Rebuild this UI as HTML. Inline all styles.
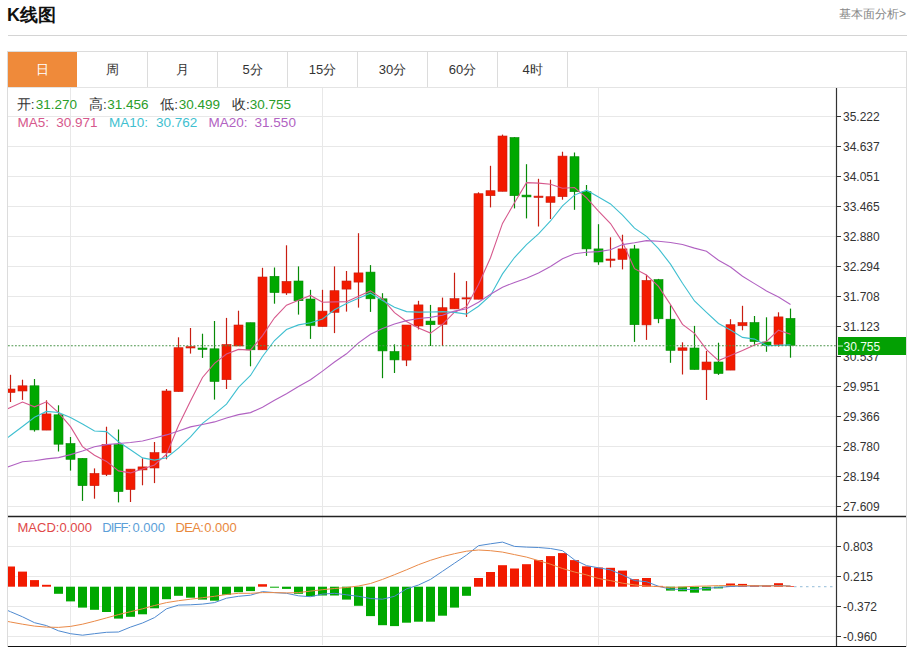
<!DOCTYPE html>
<html><head><meta charset="utf-8">
<style>
html,body{margin:0;padding:0;background:#fff;}
body{width:913px;height:647px;position:relative;overflow:hidden;font-family:"Liberation Sans",sans-serif;color:#333;}
.title{position:absolute;left:7px;top:4px;font-size:18px;font-weight:bold;color:#111;line-height:22px;}
.more{position:absolute;right:7px;top:6px;font-size:12px;color:#888;line-height:16px;}
.hl{position:absolute;left:8px;top:35px;width:899px;height:1px;background:#d4d4d4;}
.box{position:absolute;left:7px;top:51px;width:898px;height:594px;border:1px solid #dcdcdc;}
.tabs{position:absolute;left:0;top:0;}
.tab{position:absolute;top:52px;height:35px;line-height:35px;text-align:center;font-size:13px;color:#333;border-right:1px solid #dcdcdc;box-sizing:border-box;}
.tab.act{background:#ef8a3a;color:#fff;border-right:none;}
.tabline{position:absolute;left:8px;top:87px;width:898px;height:1px;background:#e4e4e4;}
svg{position:absolute;left:0;top:0;}
.ax{font-family:"Liberation Sans",sans-serif;font-size:12px;fill:#333;}
.lg{position:absolute;font-size:13px;line-height:16px;white-space:pre;}
</style></head><body>
<div class="title">K线图</div>
<div class="more">基本面分析&gt;</div>
<div class="hl"></div>
<div class="box"></div>
<div class="tab act" style="left:8px;width:69px">日</div><div class="tab" style="left:78px;width:70px">周</div><div class="tab" style="left:148px;width:70px">月</div><div class="tab" style="left:218px;width:70px">5分</div><div class="tab" style="left:288px;width:70px">15分</div><div class="tab" style="left:358px;width:70px">30分</div><div class="tab" style="left:428px;width:70px">60分</div><div class="tab" style="left:498px;width:70px">4时</div>
<div class="tabline"></div>
<svg width="913" height="647" viewBox="0 0 913 647">
<defs><clipPath id="cp"><rect x="8" y="88" width="828" height="428"/></clipPath>
<clipPath id="cp2"><rect x="8" y="517" width="828" height="128"/></clipPath></defs>
<line x1="8" y1="116.5" x2="836" y2="116.5" stroke="#e8e8e8" stroke-width="1"/>
<line x1="8" y1="146.5" x2="836" y2="146.5" stroke="#e8e8e8" stroke-width="1"/>
<line x1="8" y1="176.5" x2="836" y2="176.5" stroke="#e8e8e8" stroke-width="1"/>
<line x1="8" y1="206.5" x2="836" y2="206.5" stroke="#e8e8e8" stroke-width="1"/>
<line x1="8" y1="236.5" x2="836" y2="236.5" stroke="#e8e8e8" stroke-width="1"/>
<line x1="8" y1="266.5" x2="836" y2="266.5" stroke="#e8e8e8" stroke-width="1"/>
<line x1="8" y1="296.5" x2="836" y2="296.5" stroke="#e8e8e8" stroke-width="1"/>
<line x1="8" y1="326.5" x2="836" y2="326.5" stroke="#e8e8e8" stroke-width="1"/>
<line x1="8" y1="356.5" x2="836" y2="356.5" stroke="#e8e8e8" stroke-width="1"/>
<line x1="8" y1="386.5" x2="836" y2="386.5" stroke="#e8e8e8" stroke-width="1"/>
<line x1="8" y1="416.5" x2="836" y2="416.5" stroke="#e8e8e8" stroke-width="1"/>
<line x1="8" y1="446.5" x2="836" y2="446.5" stroke="#e8e8e8" stroke-width="1"/>
<line x1="8" y1="476.5" x2="836" y2="476.5" stroke="#e8e8e8" stroke-width="1"/>
<line x1="8" y1="506.5" x2="836" y2="506.5" stroke="#e8e8e8" stroke-width="1"/>
<line x1="8" y1="546.5" x2="836" y2="546.5" stroke="#e8e8e8" stroke-width="1"/>
<line x1="8" y1="576.5" x2="836" y2="576.5" stroke="#e8e8e8" stroke-width="1"/>
<line x1="8" y1="606.5" x2="836" y2="606.5" stroke="#e8e8e8" stroke-width="1"/>
<line x1="8" y1="636.5" x2="836" y2="636.5" stroke="#e8e8e8" stroke-width="1"/>
<line x1="70.5" y1="88" x2="70.5" y2="645" stroke="#e8e8e8" stroke-width="1"/>
<line x1="322.5" y1="88" x2="322.5" y2="645" stroke="#e8e8e8" stroke-width="1"/>
<line x1="598.5" y1="88" x2="598.5" y2="645" stroke="#e8e8e8" stroke-width="1"/>
<g clip-path="url(#cp)"><line x1="10.5" y1="374.8" x2="10.5" y2="402.0" stroke="#c81e12" stroke-width="1.2"/><rect x="6.0" y="389.0" width="9" height="3.5" fill="#f21a00" stroke="#c81e12" stroke-width="0.6"/><line x1="22.5" y1="379.7" x2="22.5" y2="399.9" stroke="#c81e12" stroke-width="1.2"/><rect x="18.0" y="385.8" width="9" height="5.2" fill="#f21a00" stroke="#c81e12" stroke-width="0.6"/><line x1="34.5" y1="379.0" x2="34.5" y2="431.6" stroke="#078a07" stroke-width="1.2"/><rect x="30.0" y="385.8" width="9" height="44.1" fill="#00a800" stroke="#078a07" stroke-width="0.6"/><line x1="46.5" y1="400.3" x2="46.5" y2="430.1" stroke="#c81e12" stroke-width="1.2"/><rect x="42.0" y="413.9" width="9" height="16.2" fill="#f21a00" stroke="#c81e12" stroke-width="0.6"/><line x1="58.5" y1="405.3" x2="58.5" y2="451.5" stroke="#078a07" stroke-width="1.2"/><rect x="54.0" y="414.8" width="9" height="29.4" fill="#00a800" stroke="#078a07" stroke-width="0.6"/><line x1="70.5" y1="437.0" x2="70.5" y2="470.6" stroke="#078a07" stroke-width="1.2"/><rect x="66.0" y="443.5" width="9" height="15.8" fill="#00a800" stroke="#078a07" stroke-width="0.6"/><line x1="82.5" y1="458.3" x2="82.5" y2="500.9" stroke="#078a07" stroke-width="1.2"/><rect x="78.0" y="458.3" width="9" height="27.4" fill="#00a800" stroke="#078a07" stroke-width="0.6"/><line x1="94.5" y1="468.4" x2="94.5" y2="498.7" stroke="#c81e12" stroke-width="1.2"/><rect x="90.0" y="473.4" width="9" height="12.3" fill="#f21a00" stroke="#c81e12" stroke-width="0.6"/><line x1="106.5" y1="426.7" x2="106.5" y2="476.0" stroke="#c81e12" stroke-width="1.2"/><rect x="102.0" y="444.6" width="9" height="29.9" fill="#f21a00" stroke="#c81e12" stroke-width="0.6"/><line x1="118.5" y1="429.5" x2="118.5" y2="502.4" stroke="#078a07" stroke-width="1.2"/><rect x="114.0" y="444.6" width="9" height="47.0" fill="#00a800" stroke="#078a07" stroke-width="0.6"/><line x1="130.5" y1="469.0" x2="130.5" y2="502.0" stroke="#c81e12" stroke-width="1.2"/><rect x="126.0" y="469.1" width="9" height="20.5" fill="#f21a00" stroke="#c81e12" stroke-width="0.6"/><line x1="142.5" y1="458.3" x2="142.5" y2="485.3" stroke="#c81e12" stroke-width="1.2"/><rect x="138.0" y="466.9" width="9" height="3.0" fill="#f21a00" stroke="#c81e12" stroke-width="0.6"/><line x1="154.5" y1="442.0" x2="154.5" y2="483.1" stroke="#c81e12" stroke-width="1.2"/><rect x="150.0" y="452.6" width="9" height="15.4" fill="#f21a00" stroke="#c81e12" stroke-width="0.6"/><line x1="166.5" y1="389.0" x2="166.5" y2="459.3" stroke="#c81e12" stroke-width="1.2"/><rect x="162.0" y="391.0" width="9" height="61.8" fill="#f21a00" stroke="#c81e12" stroke-width="0.6"/><line x1="178.5" y1="337.3" x2="178.5" y2="391.6" stroke="#c81e12" stroke-width="1.2"/><rect x="174.0" y="347.7" width="9" height="43.9" fill="#f21a00" stroke="#c81e12" stroke-width="0.6"/><line x1="190.5" y1="328.0" x2="190.5" y2="353.6" stroke="#c81e12" stroke-width="1.2"/><rect x="186.0" y="346.6" width="9" height="1.4" fill="#f21a00" stroke="#c81e12" stroke-width="0.6"/><line x1="202.5" y1="333.7" x2="202.5" y2="357.9" stroke="#078a07" stroke-width="1.2"/><rect x="198.0" y="348.0" width="9" height="1.5" fill="#00a800" stroke="#078a07" stroke-width="0.6"/><line x1="214.5" y1="321.0" x2="214.5" y2="399.6" stroke="#078a07" stroke-width="1.2"/><rect x="210.0" y="348.8" width="9" height="32.7" fill="#00a800" stroke="#078a07" stroke-width="0.6"/><line x1="226.5" y1="317.9" x2="226.5" y2="389.0" stroke="#c81e12" stroke-width="1.2"/><rect x="222.0" y="344.5" width="9" height="35.2" fill="#f21a00" stroke="#c81e12" stroke-width="0.6"/><line x1="238.5" y1="310.7" x2="238.5" y2="346.0" stroke="#c81e12" stroke-width="1.2"/><rect x="234.0" y="325.0" width="9" height="21.0" fill="#f21a00" stroke="#c81e12" stroke-width="0.6"/><line x1="250.5" y1="322.7" x2="250.5" y2="366.3" stroke="#078a07" stroke-width="1.2"/><rect x="246.0" y="322.7" width="9" height="27.1" fill="#00a800" stroke="#078a07" stroke-width="0.6"/><line x1="262.5" y1="267.8" x2="262.5" y2="349.8" stroke="#c81e12" stroke-width="1.2"/><rect x="258.0" y="277.0" width="9" height="72.8" fill="#f21a00" stroke="#c81e12" stroke-width="0.6"/><line x1="274.5" y1="267.5" x2="274.5" y2="303.7" stroke="#078a07" stroke-width="1.2"/><rect x="270.0" y="276.3" width="9" height="16.3" fill="#00a800" stroke="#078a07" stroke-width="0.6"/><line x1="286.5" y1="245.3" x2="286.5" y2="294.9" stroke="#c81e12" stroke-width="1.2"/><rect x="282.0" y="281.4" width="9" height="11.6" fill="#f21a00" stroke="#c81e12" stroke-width="0.6"/><line x1="298.5" y1="266.4" x2="298.5" y2="314.6" stroke="#078a07" stroke-width="1.2"/><rect x="294.0" y="281.0" width="9" height="19.7" fill="#00a800" stroke="#078a07" stroke-width="0.6"/><line x1="310.5" y1="289.8" x2="310.5" y2="338.9" stroke="#078a07" stroke-width="1.2"/><rect x="306.0" y="299.0" width="9" height="26.5" fill="#00a800" stroke="#078a07" stroke-width="0.6"/><line x1="322.5" y1="289.8" x2="322.5" y2="326.6" stroke="#c81e12" stroke-width="1.2"/><rect x="318.0" y="311.1" width="9" height="15.5" fill="#f21a00" stroke="#c81e12" stroke-width="0.6"/><line x1="334.5" y1="266.4" x2="334.5" y2="333.1" stroke="#c81e12" stroke-width="1.2"/><rect x="330.0" y="290.7" width="9" height="21.6" fill="#f21a00" stroke="#c81e12" stroke-width="0.6"/><line x1="346.5" y1="271.0" x2="346.5" y2="311.6" stroke="#c81e12" stroke-width="1.2"/><rect x="342.0" y="281.0" width="9" height="8.1" fill="#f21a00" stroke="#c81e12" stroke-width="0.6"/><line x1="358.5" y1="233.2" x2="358.5" y2="307.6" stroke="#c81e12" stroke-width="1.2"/><rect x="354.0" y="272.9" width="9" height="9.2" fill="#f21a00" stroke="#c81e12" stroke-width="0.6"/><line x1="370.5" y1="265.1" x2="370.5" y2="311.9" stroke="#078a07" stroke-width="1.2"/><rect x="366.0" y="272.1" width="9" height="26.7" fill="#00a800" stroke="#078a07" stroke-width="0.6"/><line x1="382.5" y1="293.2" x2="382.5" y2="378.2" stroke="#078a07" stroke-width="1.2"/><rect x="378.0" y="298.8" width="9" height="52.1" fill="#00a800" stroke="#078a07" stroke-width="0.6"/><line x1="394.5" y1="344.4" x2="394.5" y2="373.0" stroke="#078a07" stroke-width="1.2"/><rect x="390.0" y="351.5" width="9" height="8.4" fill="#00a800" stroke="#078a07" stroke-width="0.6"/><line x1="406.5" y1="325.0" x2="406.5" y2="366.1" stroke="#c81e12" stroke-width="1.2"/><rect x="402.0" y="325.0" width="9" height="35.1" fill="#f21a00" stroke="#c81e12" stroke-width="0.6"/><line x1="418.5" y1="300.8" x2="418.5" y2="329.4" stroke="#c81e12" stroke-width="1.2"/><rect x="414.0" y="304.9" width="9" height="21.1" fill="#f21a00" stroke="#c81e12" stroke-width="0.6"/><line x1="430.5" y1="304.9" x2="430.5" y2="346.0" stroke="#078a07" stroke-width="1.2"/><rect x="426.0" y="321.1" width="9" height="3.6" fill="#00a800" stroke="#078a07" stroke-width="0.6"/><line x1="442.5" y1="297.6" x2="442.5" y2="346.0" stroke="#c81e12" stroke-width="1.2"/><rect x="438.0" y="307.7" width="9" height="16.6" fill="#f21a00" stroke="#c81e12" stroke-width="0.6"/><line x1="454.5" y1="272.7" x2="454.5" y2="308.9" stroke="#c81e12" stroke-width="1.2"/><rect x="450.0" y="298.6" width="9" height="10.3" fill="#f21a00" stroke="#c81e12" stroke-width="0.6"/><line x1="466.5" y1="281.1" x2="466.5" y2="316.9" stroke="#c81e12" stroke-width="1.2"/><rect x="462.0" y="297.8" width="9" height="1.2" fill="#f21a00" stroke="#c81e12" stroke-width="0.6"/><line x1="478.5" y1="192.3" x2="478.5" y2="299.2" stroke="#c81e12" stroke-width="1.2"/><rect x="474.0" y="193.7" width="9" height="105.5" fill="#f21a00" stroke="#c81e12" stroke-width="0.6"/><line x1="490.5" y1="165.8" x2="490.5" y2="207.4" stroke="#c81e12" stroke-width="1.2"/><rect x="486.0" y="190.7" width="9" height="5.0" fill="#f21a00" stroke="#c81e12" stroke-width="0.6"/><line x1="502.5" y1="134.6" x2="502.5" y2="191.3" stroke="#c81e12" stroke-width="1.2"/><rect x="498.0" y="136.0" width="9" height="55.3" fill="#f21a00" stroke="#c81e12" stroke-width="0.6"/><line x1="514.5" y1="137.1" x2="514.5" y2="208.4" stroke="#078a07" stroke-width="1.2"/><rect x="510.0" y="137.5" width="9" height="58.2" fill="#00a800" stroke="#078a07" stroke-width="0.6"/><line x1="526.5" y1="164.2" x2="526.5" y2="218.4" stroke="#078a07" stroke-width="1.2"/><rect x="522.0" y="195.1" width="9" height="1.8" fill="#00a800" stroke="#078a07" stroke-width="0.6"/><line x1="538.5" y1="178.8" x2="538.5" y2="226.5" stroke="#c81e12" stroke-width="1.2"/><rect x="534.0" y="196.1" width="9" height="1.4" fill="#f21a00" stroke="#c81e12" stroke-width="0.6"/><line x1="550.5" y1="179.7" x2="550.5" y2="219.0" stroke="#c81e12" stroke-width="1.2"/><rect x="546.0" y="196.7" width="9" height="5.7" fill="#f21a00" stroke="#c81e12" stroke-width="0.6"/><line x1="562.5" y1="151.7" x2="562.5" y2="199.7" stroke="#c81e12" stroke-width="1.2"/><rect x="558.0" y="156.1" width="9" height="40.6" fill="#f21a00" stroke="#c81e12" stroke-width="0.6"/><line x1="574.5" y1="152.5" x2="574.5" y2="209.8" stroke="#078a07" stroke-width="1.2"/><rect x="570.0" y="156.7" width="9" height="35.0" fill="#00a800" stroke="#078a07" stroke-width="0.6"/><line x1="586.5" y1="185.0" x2="586.5" y2="255.9" stroke="#078a07" stroke-width="1.2"/><rect x="582.0" y="191.7" width="9" height="57.2" fill="#00a800" stroke="#078a07" stroke-width="0.6"/><line x1="598.5" y1="224.2" x2="598.5" y2="264.8" stroke="#078a07" stroke-width="1.2"/><rect x="594.0" y="248.9" width="9" height="13.1" fill="#00a800" stroke="#078a07" stroke-width="0.6"/><line x1="610.5" y1="237.3" x2="610.5" y2="267.4" stroke="#c81e12" stroke-width="1.2"/><rect x="606.0" y="259.0" width="9" height="1.4" fill="#f21a00" stroke="#c81e12" stroke-width="0.6"/><line x1="622.5" y1="234.7" x2="622.5" y2="269.4" stroke="#c81e12" stroke-width="1.2"/><rect x="618.0" y="248.9" width="9" height="10.5" fill="#f21a00" stroke="#c81e12" stroke-width="0.6"/><line x1="634.5" y1="244.9" x2="634.5" y2="341.9" stroke="#078a07" stroke-width="1.2"/><rect x="630.0" y="248.9" width="9" height="75.8" fill="#00a800" stroke="#078a07" stroke-width="0.6"/><line x1="646.5" y1="274.8" x2="646.5" y2="339.9" stroke="#c81e12" stroke-width="1.2"/><rect x="642.0" y="280.4" width="9" height="44.5" fill="#f21a00" stroke="#c81e12" stroke-width="0.6"/><line x1="658.5" y1="278.9" x2="658.5" y2="323.2" stroke="#078a07" stroke-width="1.2"/><rect x="654.0" y="279.6" width="9" height="39.2" fill="#00a800" stroke="#078a07" stroke-width="0.6"/><line x1="670.5" y1="305.2" x2="670.5" y2="362.8" stroke="#078a07" stroke-width="1.2"/><rect x="666.0" y="319.2" width="9" height="31.2" fill="#00a800" stroke="#078a07" stroke-width="0.6"/><line x1="682.5" y1="342.3" x2="682.5" y2="374.5" stroke="#c81e12" stroke-width="1.2"/><rect x="678.0" y="347.8" width="9" height="2.6" fill="#f21a00" stroke="#c81e12" stroke-width="0.6"/><line x1="694.5" y1="325.9" x2="694.5" y2="369.5" stroke="#078a07" stroke-width="1.2"/><rect x="690.0" y="348.0" width="9" height="21.5" fill="#00a800" stroke="#078a07" stroke-width="0.6"/><line x1="706.5" y1="351.0" x2="706.5" y2="400.0" stroke="#c81e12" stroke-width="1.2"/><rect x="702.0" y="362.0" width="9" height="7.8" fill="#f21a00" stroke="#c81e12" stroke-width="0.6"/><line x1="718.5" y1="342.7" x2="718.5" y2="374.9" stroke="#078a07" stroke-width="1.2"/><rect x="714.0" y="362.0" width="9" height="11.5" fill="#00a800" stroke="#078a07" stroke-width="0.6"/><line x1="730.5" y1="319.2" x2="730.5" y2="370.1" stroke="#c81e12" stroke-width="1.2"/><rect x="726.0" y="324.7" width="9" height="45.4" fill="#f21a00" stroke="#c81e12" stroke-width="0.6"/><line x1="742.5" y1="305.8" x2="742.5" y2="330.3" stroke="#c81e12" stroke-width="1.2"/><rect x="738.0" y="322.6" width="9" height="3.1" fill="#f21a00" stroke="#c81e12" stroke-width="0.6"/><line x1="754.5" y1="316.0" x2="754.5" y2="344.7" stroke="#078a07" stroke-width="1.2"/><rect x="750.0" y="322.5" width="9" height="19.1" fill="#00a800" stroke="#078a07" stroke-width="0.6"/><line x1="766.5" y1="317.3" x2="766.5" y2="351.8" stroke="#078a07" stroke-width="1.2"/><rect x="762.0" y="342.0" width="9" height="3.3" fill="#00a800" stroke="#078a07" stroke-width="0.6"/><line x1="778.5" y1="312.3" x2="778.5" y2="346.6" stroke="#c81e12" stroke-width="1.2"/><rect x="774.0" y="316.9" width="9" height="27.5" fill="#f21a00" stroke="#c81e12" stroke-width="0.6"/><line x1="790.5" y1="308.6" x2="790.5" y2="357.7" stroke="#078a07" stroke-width="1.2"/><rect x="786.0" y="318.4" width="9" height="26.9" fill="#00a800" stroke="#078a07" stroke-width="0.6"/>
<path d="M-1.5,413.0 L10.5,407.5 L22.5,402.0 L34.5,406.8 L46.5,401.8 L58.5,412.6 L70.5,426.6 L82.5,446.6 L94.5,455.3 L106.5,461.4 L118.5,470.9 L130.5,472.9 L142.5,469.1 L154.5,465.0 L166.5,454.2 L178.5,425.5 L190.5,401.0 L202.5,377.5 L214.5,363.3 L226.5,354.0 L238.5,349.4 L250.5,350.1 L262.5,335.6 L274.5,317.8 L286.5,305.2 L298.5,300.3 L310.5,295.4 L322.5,302.3 L334.5,301.9 L346.5,301.8 L358.5,296.2 L370.5,290.9 L382.5,298.9 L394.5,312.7 L406.5,321.5 L418.5,327.9 L430.5,333.1 L442.5,324.4 L454.5,312.2 L466.5,306.7 L478.5,284.5 L490.5,257.7 L502.5,223.4 L514.5,202.8 L526.5,182.6 L538.5,183.1 L550.5,184.3 L562.5,188.3 L574.5,187.5 L586.5,197.9 L598.5,211.1 L610.5,223.5 L622.5,242.1 L634.5,268.7 L646.5,275.0 L658.5,286.4 L670.5,304.6 L682.5,324.4 L694.5,333.4 L706.5,349.7 L718.5,360.6 L730.5,355.5 L742.5,350.5 L754.5,344.9 L766.5,341.5 L778.5,330.2 L790.5,334.3" fill="none" stroke="#d6588c" stroke-width="1.1"/>
<path d="M-1.5,444.5 L10.5,435.5 L22.5,426.5 L34.5,417.3 L46.5,411.4 L58.5,412.5 L70.5,417.5 L82.5,424.0 L94.5,431.0 L106.5,431.6 L118.5,441.7 L130.5,449.8 L142.5,457.9 L154.5,460.1 L166.5,457.8 L178.5,448.2 L190.5,436.9 L202.5,423.3 L214.5,414.1 L226.5,404.1 L238.5,387.4 L250.5,375.5 L262.5,356.5 L274.5,340.5 L286.5,329.6 L298.5,324.9 L310.5,322.8 L322.5,318.9 L334.5,309.8 L346.5,303.5 L358.5,298.3 L370.5,293.2 L382.5,300.6 L394.5,307.3 L406.5,311.6 L418.5,312.1 L430.5,312.0 L442.5,311.6 L454.5,312.4 L466.5,314.1 L478.5,306.2 L490.5,295.4 L502.5,273.9 L514.5,257.5 L526.5,244.7 L538.5,233.8 L550.5,221.0 L562.5,205.8 L574.5,195.1 L586.5,190.2 L598.5,197.1 L610.5,203.9 L622.5,215.2 L634.5,228.1 L646.5,236.4 L658.5,248.7 L670.5,264.1 L682.5,283.3 L694.5,301.0 L706.5,312.4 L718.5,323.5 L730.5,330.1 L742.5,337.4 L754.5,339.1 L766.5,345.6 L778.5,345.4 L790.5,344.9" fill="none" stroke="#3fbfd0" stroke-width="1.1"/>
<path d="M-1.5,470.3 L10.5,466.0 L22.5,461.7 L34.5,460.8 L46.5,458.9 L58.5,457.6 L70.5,454.6 L82.5,451.1 L94.5,446.8 L106.5,444.6 L118.5,443.5 L130.5,442.5 L142.5,441.0 L154.5,438.0 L166.5,434.9 L178.5,431.0 L190.5,426.9 L202.5,424.5 L214.5,421.9 L226.5,418.0 L238.5,414.6 L250.5,412.6 L262.5,407.2 L274.5,400.3 L286.5,393.7 L298.5,386.5 L310.5,379.8 L322.5,371.1 L334.5,362.0 L346.5,353.8 L358.5,342.9 L370.5,334.3 L382.5,328.5 L394.5,323.9 L406.5,320.6 L418.5,318.5 L430.5,317.4 L442.5,315.3 L454.5,311.1 L466.5,308.8 L478.5,302.2 L490.5,294.3 L502.5,287.2 L514.5,282.4 L526.5,278.2 L538.5,272.9 L550.5,266.5 L562.5,258.7 L574.5,253.8 L586.5,252.2 L598.5,251.6 L610.5,249.7 L622.5,244.6 L634.5,242.8 L646.5,240.6 L658.5,241.3 L670.5,242.5 L682.5,244.5 L694.5,248.1 L706.5,251.3 L718.5,260.3 L730.5,267.0 L742.5,276.3 L754.5,283.6 L766.5,291.0 L778.5,297.1 L790.5,304.5" fill="none" stroke="#b162c2" stroke-width="1.1"/>
</g>
<g clip-path="url(#cp2)"><rect x="6.0" y="566.5" width="9" height="20.2" fill="#f21a00"/><rect x="18.0" y="571.6" width="9" height="15.1" fill="#f21a00"/><rect x="30.0" y="580.1" width="9" height="6.6" fill="#f21a00"/><rect x="42.0" y="584.8" width="9" height="1.9" fill="#f21a00"/><rect x="54.0" y="586.7" width="9" height="7.1" fill="#00a800"/><rect x="66.0" y="586.7" width="9" height="14.7" fill="#00a800"/><rect x="78.0" y="586.7" width="9" height="20.9" fill="#00a800"/><rect x="90.0" y="586.7" width="9" height="23.1" fill="#00a800"/><rect x="102.0" y="586.7" width="9" height="25.3" fill="#00a800"/><rect x="114.0" y="586.7" width="9" height="31.9" fill="#00a800"/><rect x="126.0" y="586.7" width="9" height="30.1" fill="#00a800"/><rect x="138.0" y="586.7" width="9" height="27.6" fill="#00a800"/><rect x="150.0" y="586.7" width="9" height="21.6" fill="#00a800"/><rect x="162.0" y="586.7" width="9" height="12.5" fill="#00a800"/><rect x="174.0" y="586.7" width="9" height="9.1" fill="#00a800"/><rect x="186.0" y="586.7" width="9" height="11.0" fill="#00a800"/><rect x="198.0" y="586.7" width="9" height="12.9" fill="#00a800"/><rect x="210.0" y="586.7" width="9" height="14.0" fill="#00a800"/><rect x="222.0" y="586.7" width="9" height="8.1" fill="#00a800"/><rect x="234.0" y="586.7" width="9" height="5.5" fill="#00a800"/><rect x="246.0" y="586.7" width="9" height="4.4" fill="#00a800"/><rect x="258.0" y="584.2" width="9" height="2.5" fill="#f21a00"/><rect x="270.0" y="586.7" width="9" height="1.0" fill="#00a800"/><rect x="282.0" y="586.7" width="9" height="2.2" fill="#00a800"/><rect x="294.0" y="586.7" width="9" height="7.1" fill="#00a800"/><rect x="306.0" y="586.7" width="9" height="9.6" fill="#00a800"/><rect x="318.0" y="586.7" width="9" height="8.8" fill="#00a800"/><rect x="330.0" y="586.7" width="9" height="8.8" fill="#00a800"/><rect x="342.0" y="586.7" width="9" height="12.9" fill="#00a800"/><rect x="354.0" y="586.7" width="9" height="19.1" fill="#00a800"/><rect x="366.0" y="586.7" width="9" height="29.4" fill="#00a800"/><rect x="378.0" y="586.7" width="9" height="38.5" fill="#00a800"/><rect x="390.0" y="586.7" width="9" height="39.4" fill="#00a800"/><rect x="402.0" y="586.7" width="9" height="36.0" fill="#00a800"/><rect x="414.0" y="586.7" width="9" height="35.0" fill="#00a800"/><rect x="426.0" y="586.7" width="9" height="35.0" fill="#00a800"/><rect x="438.0" y="586.7" width="9" height="29.0" fill="#00a800"/><rect x="450.0" y="586.7" width="9" height="20.9" fill="#00a800"/><rect x="462.0" y="586.7" width="9" height="9.1" fill="#00a800"/><rect x="474.0" y="578.0" width="9" height="8.7" fill="#f21a00"/><rect x="486.0" y="572.0" width="9" height="14.7" fill="#f21a00"/><rect x="498.0" y="565.2" width="9" height="21.5" fill="#f21a00"/><rect x="510.0" y="568.5" width="9" height="18.2" fill="#f21a00"/><rect x="522.0" y="564.2" width="9" height="22.5" fill="#f21a00"/><rect x="534.0" y="560.1" width="9" height="26.6" fill="#f21a00"/><rect x="546.0" y="556.1" width="9" height="30.6" fill="#f21a00"/><rect x="558.0" y="553.1" width="9" height="33.6" fill="#f21a00"/><rect x="570.0" y="560.1" width="9" height="26.6" fill="#f21a00"/><rect x="582.0" y="566.3" width="9" height="20.4" fill="#f21a00"/><rect x="594.0" y="567.5" width="9" height="19.2" fill="#f21a00"/><rect x="606.0" y="567.8" width="9" height="18.9" fill="#f21a00"/><rect x="618.0" y="570.6" width="9" height="16.1" fill="#f21a00"/><rect x="630.0" y="579.2" width="9" height="7.5" fill="#f21a00"/><rect x="642.0" y="578.0" width="9" height="8.7" fill="#f21a00"/><rect x="654.0" y="585.9" width="9" height="0.8" fill="#f21a00"/><rect x="666.0" y="586.7" width="9" height="3.9" fill="#00a800"/><rect x="678.0" y="586.7" width="9" height="4.6" fill="#00a800"/><rect x="690.0" y="586.7" width="9" height="6.0" fill="#00a800"/><rect x="702.0" y="586.7" width="9" height="3.9" fill="#00a800"/><rect x="714.0" y="586.7" width="9" height="1.7" fill="#00a800"/><rect x="726.0" y="583.5" width="9" height="3.2" fill="#f21a00"/><rect x="738.0" y="583.9" width="9" height="2.8" fill="#f21a00"/><rect x="750.0" y="585.3" width="9" height="1.4" fill="#f21a00"/><rect x="762.0" y="585.3" width="9" height="1.4" fill="#f21a00"/><rect x="774.0" y="583.2" width="9" height="3.5" fill="#f21a00"/><rect x="786.0" y="586.0" width="9" height="0.7" fill="#f21a00"/>
<path d="M-1.5,606.6 L10.5,611.7 L22.5,616.8 L34.5,622.7 L46.5,625.6 L58.5,630.8 L70.5,633.7 L82.5,635.2 L94.5,633.7 L106.5,632.3 L118.5,632.0 L130.5,627.1 L142.5,623.0 L154.5,617.6 L166.5,608.8 L178.5,605.1 L190.5,604.8 L202.5,604.1 L214.5,602.6 L226.5,598.2 L238.5,596.3 L250.5,595.2 L262.5,591.6 L274.5,592.6 L286.5,593.3 L298.5,595.8 L310.5,596.7 L322.5,594.1 L334.5,593.3 L346.5,594.8 L358.5,596.3 L370.5,598.5 L382.5,599.2 L394.5,596.3 L406.5,588.9 L418.5,585.0 L430.5,579.4 L442.5,571.3 L454.5,563.2 L466.5,555.1 L478.5,545.7 L490.5,543.8 L502.5,542.1 L514.5,546.4 L526.5,547.1 L538.5,547.5 L550.5,548.5 L562.5,550.7 L574.5,559.9 L586.5,565.6 L598.5,567.8 L610.5,569.9 L622.5,574.9 L634.5,580.6 L646.5,581.7 L658.5,586.3 L670.5,589.1 L682.5,589.4 L694.5,589.4 L706.5,588.4 L718.5,587.4 L730.5,586.5 L742.5,586.0 L754.5,586.0 L766.5,585.8 L778.5,585.5 L790.5,586.0" fill="none" stroke="#4f8ad0" stroke-width="1"/>
<path d="M-1.5,619.8 L10.5,622.0 L22.5,624.2 L34.5,626.1 L46.5,627.1 L58.5,627.4 L70.5,626.4 L82.5,624.2 L94.5,621.2 L106.5,617.9 L118.5,614.6 L130.5,611.7 L142.5,608.8 L154.5,605.5 L166.5,602.6 L178.5,600.7 L190.5,599.2 L202.5,597.7 L214.5,596.3 L226.5,594.5 L238.5,593.3 L250.5,593.3 L262.5,592.6 L274.5,592.6 L286.5,592.9 L298.5,592.6 L310.5,591.1 L322.5,589.7 L334.5,588.5 L346.5,587.5 L358.5,586.0 L370.5,583.5 L382.5,579.4 L394.5,574.7 L406.5,569.8 L418.5,564.7 L430.5,560.3 L442.5,556.6 L454.5,553.7 L466.5,551.2 L478.5,550.0 L490.5,550.7 L502.5,552.1 L514.5,554.6 L526.5,557.1 L538.5,560.6 L550.5,564.2 L562.5,568.5 L574.5,572.0 L586.5,574.9 L598.5,578.5 L610.5,580.6 L622.5,583.2 L634.5,584.9 L646.5,586.0 L658.5,586.6 L670.5,587.4 L682.5,587.0 L694.5,586.3 L706.5,586.0 L718.5,585.6 L730.5,585.5 L742.5,585.6 L754.5,585.8 L766.5,585.8 L778.5,585.9 L790.5,586.0" fill="none" stroke="#ea8a48" stroke-width="1"/>
</g>
<line x1="794" y1="586.7" x2="834" y2="586.7" stroke="#a9c9e0" stroke-width="1.3" stroke-dasharray="2.5,3.5"/>
<line x1="8" y1="345.7" x2="836" y2="345.7" stroke="#4a944a" stroke-width="1.1" stroke-dasharray="1.8,1.7"/>
<line x1="836.5" y1="88" x2="836.5" y2="646" stroke="#333" stroke-width="1.2"/>
<line x1="8" y1="646.5" x2="906" y2="646.5" stroke="#111" stroke-width="1.2"/>
<line x1="8" y1="516.5" x2="906" y2="516.5" stroke="#222" stroke-width="1.5"/>
<line x1="836" y1="116.5" x2="841" y2="116.5" stroke="#333" stroke-width="1"/>
<text x="843" y="120.5" class="ax">35.222</text>
<line x1="836" y1="146.5" x2="841" y2="146.5" stroke="#333" stroke-width="1"/>
<text x="843" y="150.5" class="ax">34.637</text>
<line x1="836" y1="176.5" x2="841" y2="176.5" stroke="#333" stroke-width="1"/>
<text x="843" y="180.5" class="ax">34.051</text>
<line x1="836" y1="206.5" x2="841" y2="206.5" stroke="#333" stroke-width="1"/>
<text x="843" y="210.5" class="ax">33.465</text>
<line x1="836" y1="236.5" x2="841" y2="236.5" stroke="#333" stroke-width="1"/>
<text x="843" y="240.5" class="ax">32.880</text>
<line x1="836" y1="266.5" x2="841" y2="266.5" stroke="#333" stroke-width="1"/>
<text x="843" y="270.5" class="ax">32.294</text>
<line x1="836" y1="296.5" x2="841" y2="296.5" stroke="#333" stroke-width="1"/>
<text x="843" y="300.5" class="ax">31.708</text>
<line x1="836" y1="326.5" x2="841" y2="326.5" stroke="#333" stroke-width="1"/>
<text x="843" y="330.5" class="ax">31.123</text>
<line x1="836" y1="356.5" x2="841" y2="356.5" stroke="#333" stroke-width="1"/>
<text x="843" y="360.5" class="ax">30.537</text>
<line x1="836" y1="386.5" x2="841" y2="386.5" stroke="#333" stroke-width="1"/>
<text x="843" y="390.5" class="ax">29.951</text>
<line x1="836" y1="416.5" x2="841" y2="416.5" stroke="#333" stroke-width="1"/>
<text x="843" y="420.5" class="ax">29.366</text>
<line x1="836" y1="446.5" x2="841" y2="446.5" stroke="#333" stroke-width="1"/>
<text x="843" y="450.5" class="ax">28.780</text>
<line x1="836" y1="476.5" x2="841" y2="476.5" stroke="#333" stroke-width="1"/>
<text x="843" y="480.5" class="ax">28.194</text>
<line x1="836" y1="506.5" x2="841" y2="506.5" stroke="#333" stroke-width="1"/>
<text x="843" y="510.5" class="ax">27.609</text>
<line x1="836" y1="546.5" x2="841" y2="546.5" stroke="#333" stroke-width="1"/>
<text x="843" y="550.5" class="ax">0.803</text>
<line x1="836" y1="576.5" x2="841" y2="576.5" stroke="#333" stroke-width="1"/>
<text x="843" y="580.5" class="ax">0.215</text>
<line x1="836" y1="606.5" x2="841" y2="606.5" stroke="#333" stroke-width="1"/>
<text x="843" y="610.5" class="ax">-0.372</text>
<line x1="836" y1="636.5" x2="841" y2="636.5" stroke="#333" stroke-width="1"/>
<text x="843" y="640.5" class="ax">-0.960</text>
<rect x="838" y="337" width="68" height="18" fill="#03a003"/><line x1="838" y1="346" x2="843" y2="346" stroke="#cfeacf" stroke-width="1"/>
<text x="843.5" y="350.7" class="ax" style="fill:#f0fff0">30.755</text>
</svg>
<div class="lg" style="left:16.8px;top:96.5px;color:#333;font-size:13.5px">开:</div>
<div class="lg" style="left:35.7px;top:96.5px;color:#2a9d2a;font-size:13.5px">31.270</div>
<div class="lg" style="left:89.1px;top:96.5px;color:#333;font-size:13.5px">高:</div>
<div class="lg" style="left:107.2px;top:96.5px;color:#2a9d2a;font-size:13.5px">31.456</div>
<div class="lg" style="left:160.2px;top:96.5px;color:#333;font-size:13.5px">低:</div>
<div class="lg" style="left:178.8px;top:96.5px;color:#2a9d2a;font-size:13.5px">30.499</div>
<div class="lg" style="left:232.1px;top:96.5px;color:#333;font-size:13.5px">收:</div>
<div class="lg" style="left:249.8px;top:96.5px;color:#2a9d2a;font-size:13.5px">30.755</div>
<div class="lg" style="left:17.6px;top:114.5px;color:#d6588c;font-size:13.5px">MA5:</div>
<div class="lg" style="left:56.2px;top:114.5px;color:#d6588c;font-size:13.5px">30.971</div>
<div class="lg" style="left:108.9px;top:114.5px;color:#3fbfd0;font-size:13.5px">MA10:</div>
<div class="lg" style="left:156.0px;top:114.5px;color:#3fbfd0;font-size:13.5px">30.762</div>
<div class="lg" style="left:208.6px;top:114.5px;color:#b162c2;font-size:13.5px">MA20:</div>
<div class="lg" style="left:254.6px;top:114.5px;color:#b162c2;font-size:13.5px">31.550</div>
<div class="lg" style="left:17.5px;top:520px;color:#e04848;font-size:13px">MACD:</div>
<div class="lg" style="left:59.4px;top:520px;color:#e04848;font-size:13px">0.000</div>
<div class="lg" style="left:102.3px;top:520px;color:#5c9fd8;letter-spacing:-0.9px;font-size:13px">DIFF:</div>
<div class="lg" style="left:132.5px;top:520px;color:#5c9fd8;font-size:13px">0.000</div>
<div class="lg" style="left:175.5px;top:520px;color:#e8883c;letter-spacing:-0.7px;font-size:13px">DEA:</div>
<div class="lg" style="left:204.2px;top:520px;color:#e8883c;font-size:13px">0.000</div>
</body></html>
